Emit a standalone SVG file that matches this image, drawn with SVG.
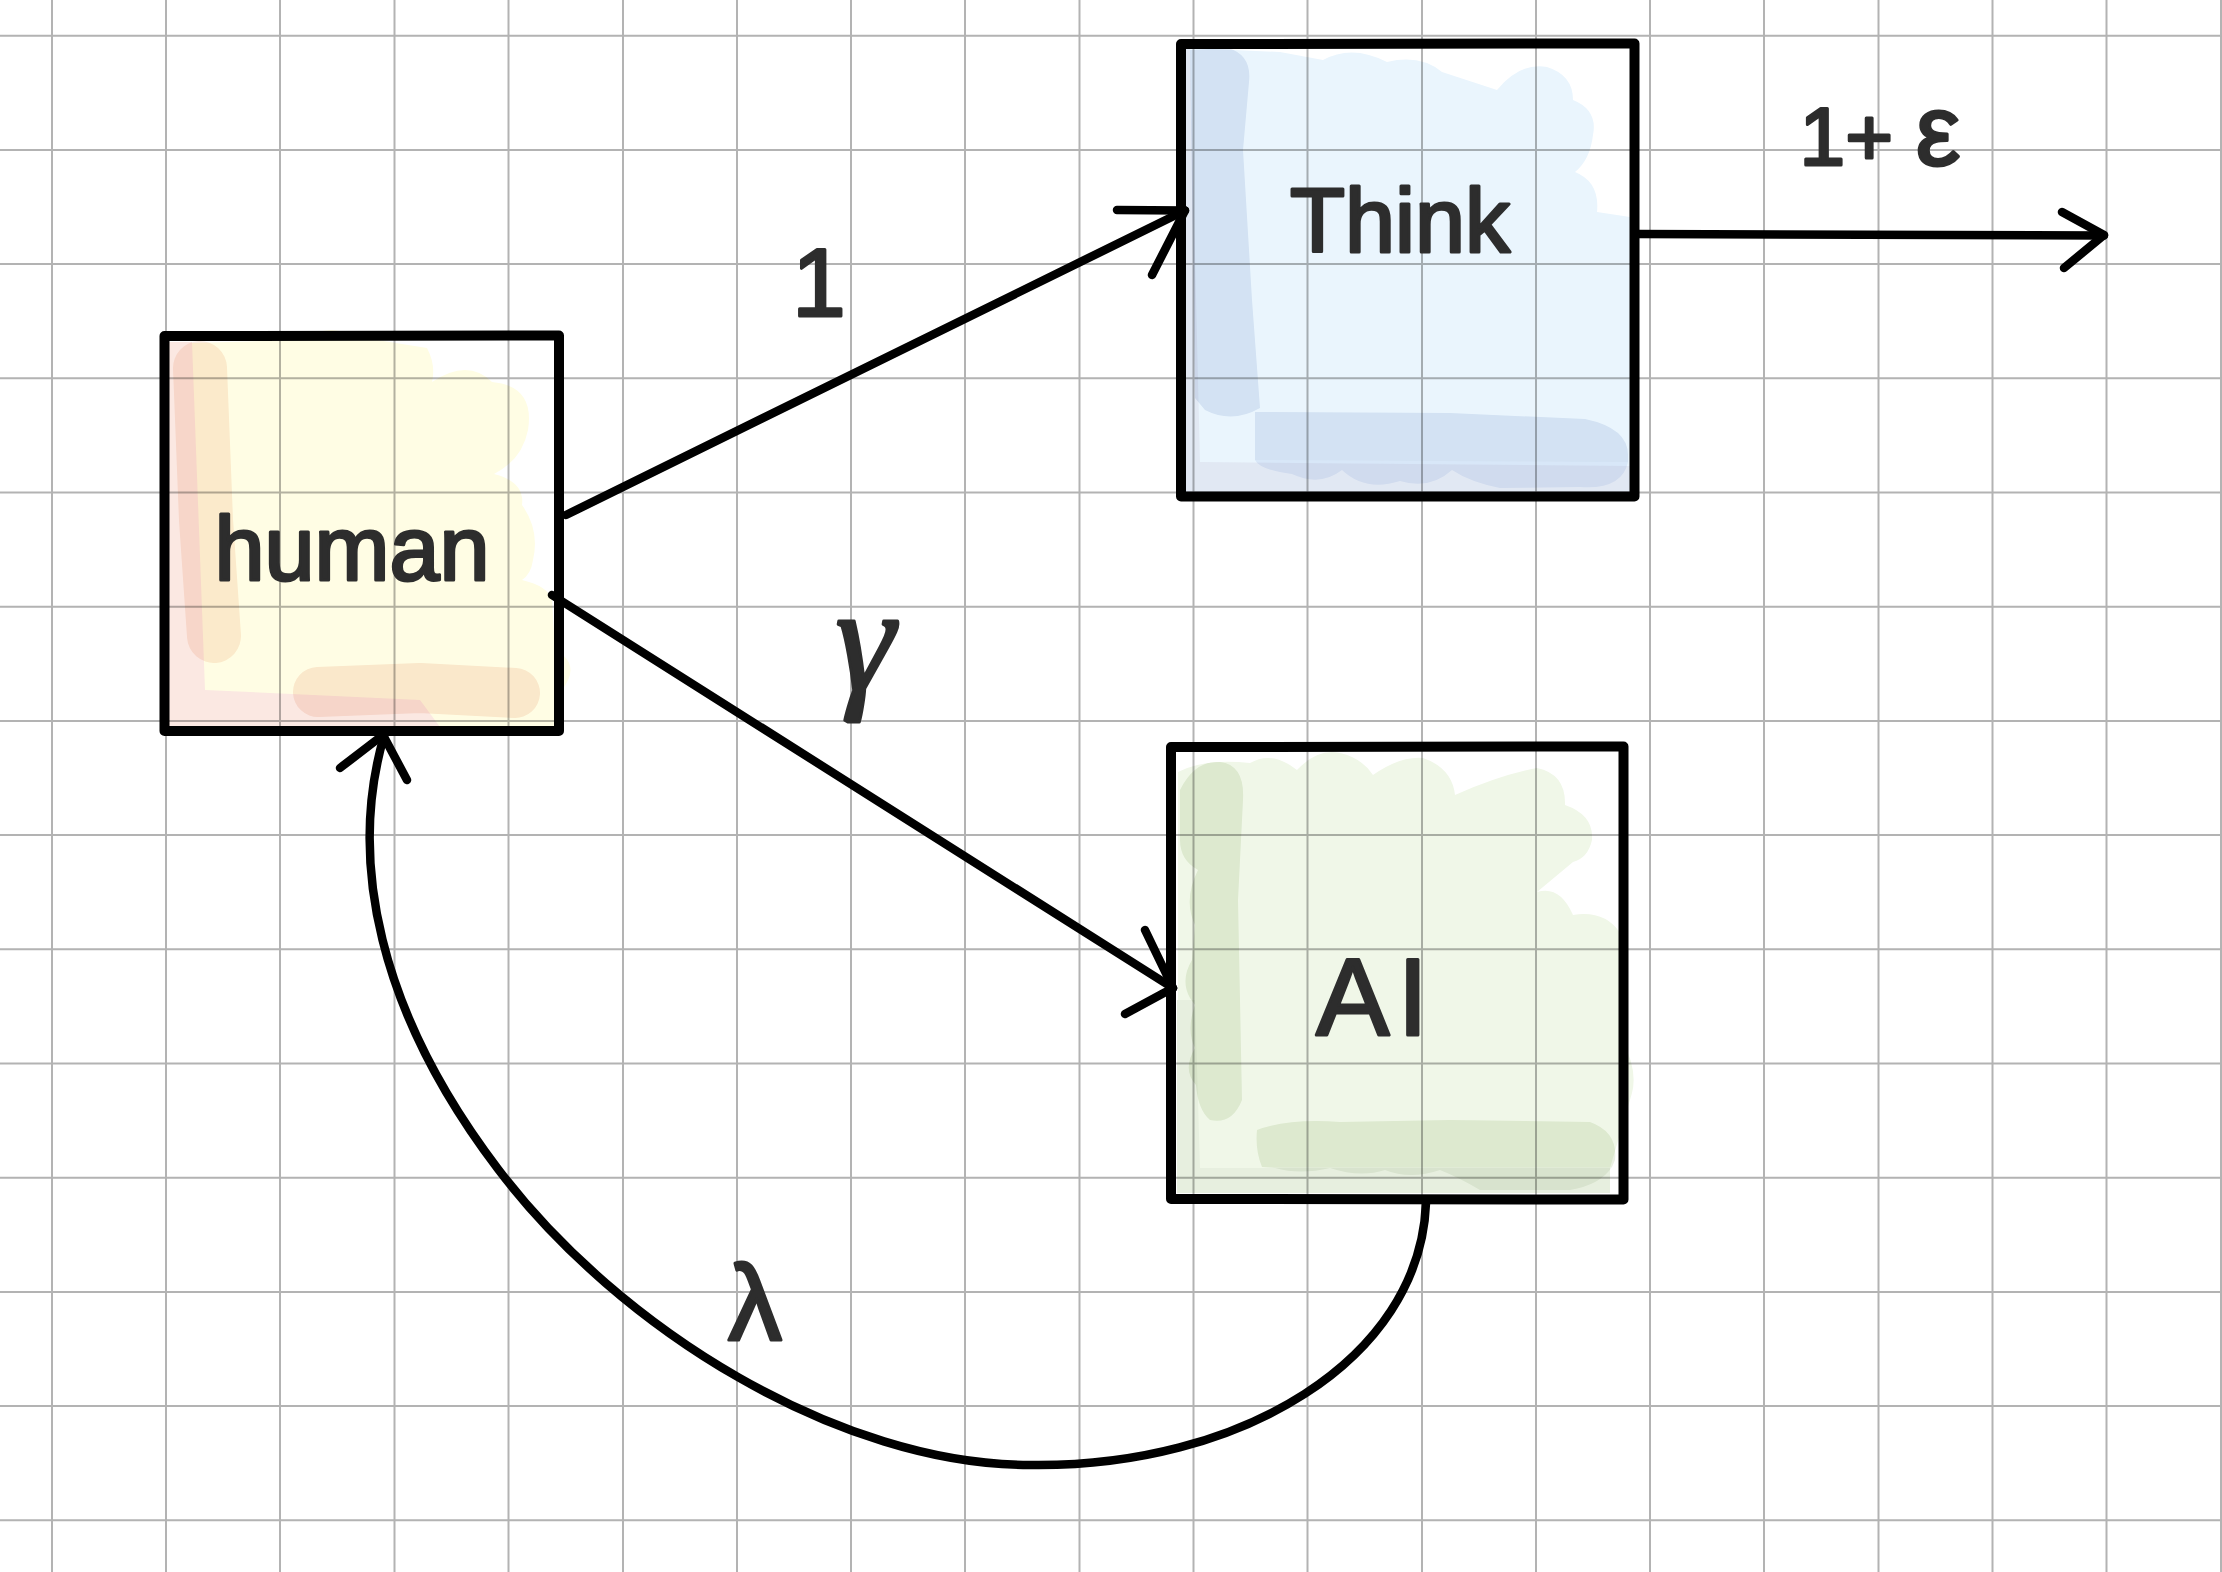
<svg xmlns="http://www.w3.org/2000/svg" width="2222" height="1572" viewBox="0 0 2222 1572">
  <style>
    .grid { stroke: #b3b3b3; stroke-width: 2; fill: none; }
    .border { fill: none; stroke: #000; stroke-width: 10; stroke-linejoin: round; stroke-linecap: round; }
    .edge { fill: none; stroke: #000; stroke-width: 8.5; stroke-linecap: round; stroke-linejoin: round; }
    .lbl { font-family: "Liberation Sans", Arial, sans-serif; fill: #2d2d2d; stroke: #2d2d2d; stroke-width: 3; stroke-linejoin: round; text-anchor: middle; }
    .greek { font-family: "Liberation Serif", "Times New Roman", serif; font-style: italic; }
    .fill { mix-blend-mode: multiply; }
    .band { fill: none; stroke-linecap: round; stroke-linejoin: round; mix-blend-mode: multiply; }
  </style>
  <rect x="0" y="0" width="2222" height="1572" fill="#ffffff"/>
  <g id="grid">
    <path class="grid" d="M52 0V1572 M166 0V1572 M280 0V1572 M394.5 0V1572 M508.5 0V1572 M623 0V1572 M737 0V1572 M851 0V1572 M965 0V1572 M1079.5 0V1572 M1193.5 0V1572 M1307.5 0V1572 M1422 0V1572 M1536 0V1572 M1650 0V1572 M1764 0V1572 M1878.5 0V1572 M1992.5 0V1572 M2106.5 0V1572 M2221 0V1572"/>
    <path class="grid" d="M0 35.7H2222 M0 149.9H2222 M0 264.1H2222 M0 378.3H2222 M0 492.5H2222 M0 606.7H2222 M0 720.9H2222 M0 835.1H2222 M0 949.3H2222 M0 1063.5H2222 M0 1177.7H2222 M0 1291.9H2222 M0 1406.1H2222 M0 1520.3H2222"/>
  </g>

  <g id="node-human">
    <path class="fill" fill="#fbe8e2" d="M168 342 L192 342 L205 690 L420 700 L440 727 L168 727 Z"/>
    <path class="fill" fill="#fffde4" d="M192 343 L300 340 Q330 322 352 336 L427 348 Q436 365 432 382 Q468 358 492 382 Q535 386 528 430 Q522 460 494 474 Q525 482 522 505 Q540 530 533 560 Q531 574 522 580 Q548 586 552 600 L555 650 Q582 664 562 690 L555 727 L440 727 L420 700 L205 690 Z"/>
    <path class="band" stroke="#fbece3" stroke-width="54" d="M200 368 L206 520 L214 636"/>
    <path class="band" stroke="#faeae3" stroke-width="50" d="M318 692 L420 688 L515 693"/>
    <path class="border" d="M164.5 336 L559 335.5 L559 731 L164.5 731 Z"/>
    <text class="lbl" x="352" y="580" font-size="90">human</text>
  </g>

  <g id="node-think">
    <path class="fill" fill="#e1e8f3" d="M1185 48 L1190 48 L1200 462 L1630 466 L1630 492 L1185 492 Z"/>
    <path class="fill" fill="#eaf5fd" d="M1190 48 L1280 52 L1323 60 Q1352 44 1387 62 Q1420 54 1442 72 L1497 90 Q1520 62 1547 67 Q1573 75 1573 100 Q1598 110 1593 135 Q1590 160 1575 172 Q1600 182 1597 212 L1630 217 L1630 466 L1200 462 Z"/>
    <path class="fill" fill="#e6ecf5" d="M1190 50 L1228 48 Q1252 55 1249 82 L1243 150 L1252 300 L1260 408 Q1232 424 1205 410 L1195 398 Z"/>
    <path class="fill" fill="#e6ecf5" d="M1255 412 L1450 413 L1585 419 Q1628 428 1628 455 L1628 462 L1255 460 Z"/>
    <path class="fill" fill="#ecf1fa" d="M1255 460 L1628 462 Q1622 490 1580 487 L1500 488 Q1470 482 1452 470 Q1430 490 1400 481 Q1365 492 1342 470 Q1320 487 1292 474 Q1260 470 1255 460 Z"/>
    <path class="border" d="M1181 44 L1634.5 43.5 L1634.5 496.5 L1181 496.5 Z"/>
    <text class="lbl" x="1400" y="252" font-size="90">Think</text>
  </g>

  <g id="node-ai">
    <path class="fill" fill="#e7efdf" d="M1177 1000 L1195 1000 L1200 1168 L1610 1168 L1610 1193 L1177 1193 Z"/>
    <path class="fill" fill="#f0f7e8" d="M1178 772 Q1205 758 1250 763 Q1272 750 1297 770 Q1318 748 1340 753 Q1362 758 1373 775 Q1400 756 1423 758 Q1452 768 1455 795 Q1500 775 1537 768 Q1566 774 1565 805 Q1594 815 1592 840 Q1588 858 1573 862 L1537 892 Q1560 885 1573 915 Q1605 910 1620 933 L1622 1040 Q1638 1070 1632 1093 L1610 1168 L1200 1168 L1195 1000 L1178 1000 Z"/>
    <path class="fill" fill="#ebf1e4" d="M1180 790 Q1195 760 1220 762 Q1245 765 1243 800 L1238 900 L1242 1100 Q1232 1125 1210 1120 Q1198 1110 1196 1085 Q1182 1070 1195 1048 Q1186 1030 1195 1005 L1190 998 Q1180 980 1192 960 L1195 925 Q1183 900 1198 870 Q1180 860 1180 840 Z"/>
    <path class="fill" fill="#ebf1e4" d="M1257 1130 Q1290 1118 1340 1122 L1450 1120 L1590 1122 Q1618 1132 1615 1160 L1612 1167 L1262 1167 Q1255 1150 1257 1130 Z"/>
    <path class="fill" fill="#eff3ec" d="M1262 1167 L1612 1167 Q1600 1185 1570 1190 L1480 1190 Q1460 1178 1440 1170 Q1410 1180 1385 1170 Q1360 1178 1330 1168 Q1300 1175 1275 1168 Z"/>
    <path class="border" d="M1171 747 L1623.5 746.5 L1623.5 1199.5 L1171 1199 Z"/>
    <text class="lbl" x="1376" y="1035" font-size="110" letter-spacing="8">AI</text>
  </g>

  <g id="connectors">
    <path class="edge" d="M566 515 L1185 210.5"/>
    <path class="edge" d="M1117 210 L1185 210.5 L1152 275"/>
    <path class="edge" d="M552 595 L1173 988"/>
    <path class="edge" d="M1145 930 L1173 988 L1125 1014"/>
    <path class="edge" d="M1638 234 L2104 235.5"/>
    <path class="edge" d="M2062 212 L2104 235 L2064 268"/>
    <path class="edge" stroke-width="9.5" d="M1426 1203 C1420 1360 1240 1468 1030 1465 C840 1465 620 1330 498 1169 C378 1011 348 860 384 736"/>
    <path class="edge" d="M340 768 L383 735 L407 780"/>
    <text class="lbl" x="819" y="316" font-size="96">1</text>
    <text class="lbl greek" x="865" y="690" font-size="150">γ</text>
    <text class="lbl" x="755" y="1340" font-size="108">λ</text>
    <text class="lbl" x="1880" y="165" font-size="82">1+ <tspan font-size="100">ε</tspan></text>
  </g>
</svg>
